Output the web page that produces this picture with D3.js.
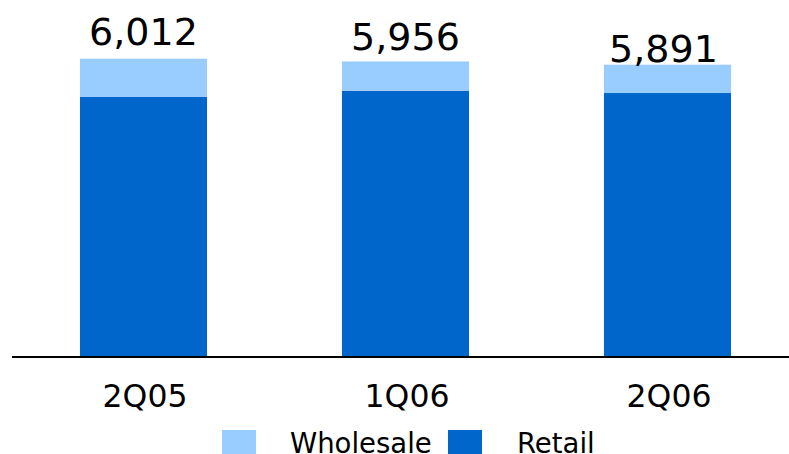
<!DOCTYPE html>
<html>
<head>
<meta charset="utf-8">
<script src="https://cdn.jsdelivr.net/npm/d3@7"></script>
<style>
  html, body { margin: 0; padding: 0; background: #ffffff; }
  svg { display: block; font-family: "DejaVu Sans", Verdana, sans-serif; }
</style>
</head>
<body>
<svg id="chart" width="789" height="454"></svg>
<script>
// Quarterly volumes, split by business line
const quarters = ["2Q05", "1Q06", "2Q06"];
const retail = [5238, 5365, 5318];
const wholesale = [774, 591, 573];
const seriesNames = ["Wholesale", "Retail"];
const seriesColors = ["#99ccff", "#0066cc"];

// Small hand placement tweaks for the total labels [dx, dy above bar top]
const labelShift = [[0, 13.5], [0, 11], [-4, 2.5]];

const rows = quarters.map((q, i) => ({ quarter: q, Retail: retail[i], Wholesale: wholesale[i] }));
const totals = rows.map(r => r.Retail + r.Wholesale);

const svg = d3.select("#chart");
const baseY = 356;

const x = d3.scaleBand()
  .domain(quarters)
  .range([12.5, 798.5])
  .paddingInner(0.515)
  .paddingOuter(0.2575);

const y = d3.scaleLinear()
  .domain([0, 6000])
  .range([baseY, baseY - 6000 * 0.04945]);

// Retail sits at the bottom, wholesale on top
const stack = d3.stack().keys(["Retail", "Wholesale"]);
const layers = stack(rows);
const color = d3.scaleOrdinal().domain(seriesNames).range(seriesColors);

svg.append("g")
  .selectAll("g")
  .data(layers)
  .join("g")
  .attr("fill", d => color(d.key))
  .selectAll("rect")
  .data(d => d)
  .join("rect")
  .attr("x", d => x(d.data.quarter))
  .attr("width", x.bandwidth())
  .attr("y", d => y(d[1]))
  .attr("height", d => y(d[0]) - y(d[1]));

// Baseline axis with category labels
const xAxis = d3.axisBottom(x).tickSize(0).tickPadding(0);
const axisG = svg.append("g")
  .attr("transform", `translate(0,${baseY + 1})`)
  .call(xAxis);
axisG.select(".domain")
  .attr("d", "M12,0H789")
  .attr("stroke", "#000")
  .attr("stroke-width", 2);
axisG.selectAll(".tick text")
  .attr("y", 50)
  .attr("dy", 0)
  .attr("dx", 1.5)
  .attr("fill", "#000")
  .style("font-family", "'DejaVu Sans', Verdana, sans-serif")
  .style("font-size", "31.5px");

// Totals above each bar
const fmt = d3.format(",");
svg.append("g")
  .selectAll("text")
  .data(rows)
  .join("text")
  .attr("x", (d, i) => x(d.quarter) + x.bandwidth() / 2 + labelShift[i][0])
  .attr("y", (d, i) => y(totals[i]) - labelShift[i][1])
  .attr("text-anchor", "middle")
  .attr("fill", "#000")
  .style("font-size", "38px")
  .text((d, i) => fmt(totals[i]));

// Legend
const legendItems = [
  { name: "Wholesale", sx: 222, tx: 290 },
  { name: "Retail", sx: 448, tx: 517 }
];
const legend = svg.append("g");
legend.selectAll("rect")
  .data(legendItems)
  .join("rect")
  .attr("x", d => d.sx)
  .attr("y", 430)
  .attr("width", 34)
  .attr("height", 25)
  .attr("fill", d => color(d.name));
legend.selectAll("text")
  .data(legendItems)
  .join("text")
  .attr("x", d => d.tx)
  .attr("y", 452.5)
  .attr("fill", "#000")
  .style("font-size", "27.5px")
  .text(d => d.name);
</script>
</body>
</html>
